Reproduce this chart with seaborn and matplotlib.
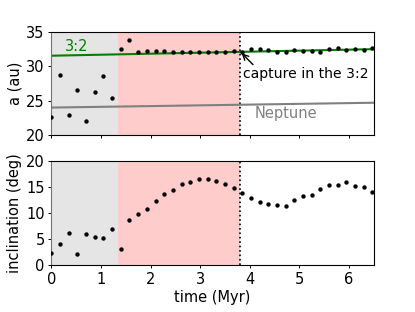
import numpy as np
import pandas as pd
import matplotlib
matplotlib.use("Agg")
import matplotlib.pyplot as plt
import seaborn as sns

# tiempos de salida (Myr)
tiempo = [0.0, 0.175, 0.35, 0.525, 0.7, 0.875, 1.05, 1.225, 1.4, 1.575,
          1.75, 1.925, 2.1, 2.275, 2.45, 2.625, 2.8, 2.975, 3.15, 3.325,
          3.5, 3.675, 3.85, 4.025, 4.2, 4.375, 4.55, 4.725, 4.9, 5.075,
          5.25, 5.425, 5.6, 5.775, 5.95, 6.125, 6.3, 6.475]

semieje = [22.7, 28.7, 22.9, 26.6, 22.0, 26.2, 28.5, 25.4, 32.4, 33.8,
           32.1, 32.2, 32.2, 32.2, 32.1, 32.1, 32.1, 32.1, 32.1, 32.1,
           32.0, 32.2, 32.1, 32.4, 32.4, 32.3, 32.1, 32.0, 32.3, 32.2,
           32.2, 32.1, 32.4, 32.6, 32.3, 32.4, 32.3, 32.6]

inclinacion = [2.2, 4.0, 6.1, 2.1, 5.9, 5.4, 5.2, 6.9, 3.0, 8.7,
               9.8, 10.8, 12.4, 13.6, 14.4, 15.6, 16.0, 16.5, 16.5, 16.2,
               15.6, 14.8, 13.9, 12.9, 12.2, 11.7, 11.5, 11.4, 12.5, 13.3,
               13.5, 14.6, 15.5, 15.5, 16.0, 15.2, 15.0, 14.0]

# Neptuno y resonancia 3:2
t_linea = [0.0, 6.5]
a_neptuno = [24.0, 24.7]
a_res32 = [31.5, 32.45]

# fases
fase_gris = (0.0, 1.35)
fase_roja = (1.35, 3.8)
t_captura = 3.8

df = pd.DataFrame({'t': tiempo, 'a': semieje, 'inc': inclinacion})
lineas = pd.DataFrame({'t': t_linea, 'nep': a_neptuno, 'res': a_res32})

fs = 10.5
fig, (ax1, ax2) = plt.subplots(2, 1, figsize=(4.15, 3.12), dpi=100, sharex=True)
fig.subplots_adjust(left=0.124, right=0.9, top=0.899, bottom=0.151, hspace=0.25)

for ax in (ax1, ax2):
    ax.axvspan(*fase_gris, color='gray', alpha=0.2, lw=0)
    ax.axvspan(*fase_roja, color='red', alpha=0.2, lw=0)
    ax.axvline(t_captura, color='k', ls=':', lw=1.2)

sns.lineplot(data=lineas, x='t', y='res', color='green', lw=1.5, ax=ax1)
sns.lineplot(data=lineas, x='t', y='nep', color='gray', lw=1.5, ax=ax1)
sns.scatterplot(data=df, x='t', y='a', color='k', s=10, linewidth=0, ax=ax1, zorder=3)
sns.scatterplot(data=df, x='t', y='inc', color='k', s=10, linewidth=0, ax=ax2, zorder=3)

ax1.text(0.27, 32.8, '3:2', color='green', fontsize=fs, va='center', ha='left')
ax1.text(4.1, 23.2, 'Neptune', color='gray', fontsize=fs, va='center', ha='left')
ax1.annotate('capture in the 3:2', xy=(3.82, 32.0), xytext=(3.87, 28.8),
             fontsize=10.1, va='center', ha='left',
             arrowprops=dict(arrowstyle='->', color='k', lw=1,
                             relpos=(0.1, 1.0), shrinkA=0, shrinkB=1))

ax1.set_xlim(0, 6.5)
ax1.set_ylim(20, 35)
ax1.set_yticks([20, 25, 30, 35])
ax2.set_ylim(0, 20)
ax2.set_yticks([0, 5, 10, 15, 20])
ax2.set_xticks([0, 1, 2, 3, 4, 5, 6])

ax1.set_xlabel('')
ax1.set_ylabel('a (au)', fontsize=fs, labelpad=2.6)
ax2.set_ylabel('inclination (deg)', fontsize=fs, labelpad=2.6)
ax2.set_xlabel('time (Myr)', fontsize=fs, labelpad=2.6)

for ax in (ax1, ax2):
    ax.tick_params(labelsize=fs, length=2.4, pad=2.4, width=0.7)
    ax.spines['left'].set_color('0.45')

plt.savefig('out.png', dpi=100)
